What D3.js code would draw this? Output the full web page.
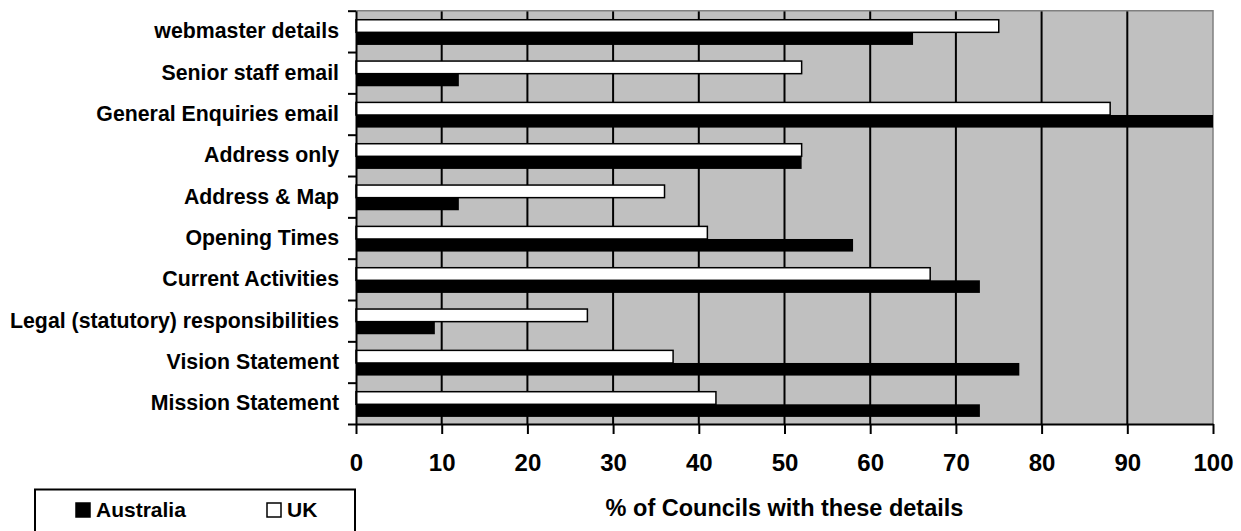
<!DOCTYPE html>
<html>
<head>
<meta charset="utf-8">
<script src="https://cdn.jsdelivr.net/npm/d3@7"></script>
<style>
  html, body { margin: 0; padding: 0; background: #fff; }
  svg { display: block; }
  text { font-family: "Liberation Sans", Arial, sans-serif; font-weight: bold; fill: #000; }
</style>
</head>
<body>
<svg id="chart" width="1241" height="531"></svg>
<script>
// Website contact / information details published by councils (% of councils)
const categories = [
  "webmaster details",
  "Senior staff email",
  "General Enquiries email",
  "Address only",
  "Address & Map",
  "Opening Times",
  "Current Activities",
  "Legal (statutory) responsibilities",
  "Vision Statement",
  "Mission Statement"
];
const series = ["UK", "Australia"];
const ukValues        = [75, 52, 88, 52, 36, 41, 67, 27, 37, 42];
const australiaValues = [65, 12, 100, 52, 12, 58, 72.8, 9.2, 77.4, 72.8];
const xTicks = [0, 10, 20, 30, 40, 50, 60, 70, 80, 90, 100];
const xTitle = "% of Councils with these details";

const colors = { UK: "#ffffff", Australia: "#000000" };
const values = { UK: ukValues, Australia: australiaValues };

const svg = d3.select("#chart");
const plot = { left: 356, right: 1213, top: 10.7, bottom: 424 };

const x = d3.scaleLinear().domain([0, 100]).range([plot.left, plot.right]);
const y0 = d3.scaleBand().domain(categories).range([plot.top, plot.bottom]).padding(0);
const y1 = d3.scaleBand().domain(series).range([0, y0.bandwidth()])
  .paddingInner(0).paddingOuter(0.64).align(0.56);

// plot background
svg.append("rect")
  .attr("x", plot.left).attr("y", plot.top)
  .attr("width", plot.right - plot.left).attr("height", plot.bottom - plot.top)
  .attr("fill", "#c0c0c0");

// vertical gridlines
svg.append("g").selectAll("line")
  .data(xTicks.filter(d => d > 0 && d < 100))
  .join("line")
  .attr("x1", d => x(d)).attr("x2", d => x(d))
  .attr("y1", plot.top).attr("y2", plot.bottom)
  .attr("stroke", "#000").attr("stroke-width", 2);

// top and right frame
svg.append("path")
  .attr("d", `M${plot.left},${plot.top}H${plot.right}V${plot.bottom}`)
  .attr("fill", "none").attr("stroke", "#808080").attr("stroke-width", 1.5);

// bars
const rows = categories.map((c, i) => ({ c, i }));
const groups = svg.append("g").selectAll("g")
  .data(rows).join("g")
  .attr("transform", d => `translate(0,${y0(d.c)})`);

groups.selectAll("rect")
  .data(d => series.map(s => ({ s, v: values[s][d.i] })))
  .join("rect")
  .attr("x", x(0))
  .attr("y", d => y1(d.s))
  .attr("width", d => x(d.v) - x(0))
  .attr("height", y1.bandwidth())
  .attr("fill", d => colors[d.s])
  .attr("stroke", "#000")
  .attr("stroke-width", d => d.s === "UK" ? 1.5 : 0);

// x axis
const xAxis = svg.append("g")
  .attr("transform", `translate(0,${plot.bottom})`)
  .call(d3.axisBottom(x).tickValues(xTicks).tickSize(10).tickPadding(20).tickSizeOuter(0));
xAxis.select(".domain").attr("stroke", "#000").attr("stroke-width", 2);
xAxis.selectAll(".tick line").attr("stroke", "#000").attr("stroke-width", 2);
xAxis.selectAll(".tick text").style("font-size", "24px")
  .style("font-family", '"Liberation Sans", Arial, sans-serif').style("font-weight", "bold");

// y axis: tick marks at category boundaries
const yEdge = d3.scaleLinear().domain([0, categories.length]).range([plot.top, plot.bottom]);
const yTickAxis = svg.append("g")
  .attr("transform", `translate(${plot.left},0)`)
  .call(d3.axisLeft(yEdge).ticks(categories.length).tickSize(8).tickFormat("").tickSizeOuter(0));
yTickAxis.select(".domain").attr("stroke", "#000").attr("stroke-width", 2);
yTickAxis.selectAll(".tick line").attr("stroke", "#000").attr("stroke-width", 2);

// y axis: category labels centred in each band
const yLabelAxis = svg.append("g")
  .attr("transform", `translate(${plot.left},0)`)
  .call(d3.axisLeft(y0).tickSize(0).tickPadding(17));
yLabelAxis.select(".domain").remove();
yLabelAxis.selectAll(".tick text").style("font-size", "21.3px")
  .style("font-family", '"Liberation Sans", Arial, sans-serif').style("font-weight", "bold");

// x axis title
svg.append("text")
  .attr("x", (plot.left + plot.right) / 2).attr("y", 516)
  .attr("text-anchor", "middle")
  .style("font-size", "23.5px")
  .text(xTitle);

// legend
const legend = svg.append("g");
legend.append("rect")
  .attr("x", 35).attr("y", 489.5).attr("width", 320).attr("height", 60)
  .attr("fill", "#fff").attr("stroke", "#000").attr("stroke-width", 2);
const legendItems = [
  { s: "Australia", x: 76 },
  { s: "UK", x: 267 }
];
const li = legend.selectAll("g.item").data(legendItems).join("g").attr("class", "item");
li.append("rect")
  .attr("x", d => d.x).attr("y", 503)
  .attr("width", 14).attr("height", 14)
  .attr("fill", d => colors[d.s]).attr("stroke", "#000").attr("stroke-width", 1.5);
li.append("text")
  .attr("x", d => d.x + 20).attr("y", 517)
  .style("font-size", "21px")
  .text(d => d.s);
</script>
</body>
</html>
